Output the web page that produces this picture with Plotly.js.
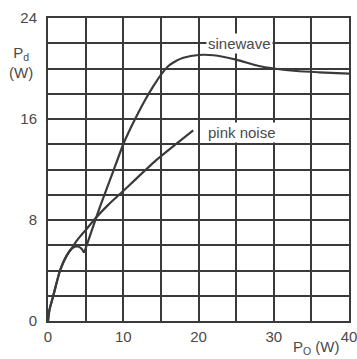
<!DOCTYPE html>
<html>
<head>
<meta charset="utf-8">
<script src="https://cdn.plot.ly/plotly-3.0.1.min.js"></script>
<style>html,body{margin:0;padding:0;background:#fff;}#chart{width:357px;height:359px;}</style>
</head>
<body>
<div id="chart"></div>
<script>
// Sinewave: low-power segment up to the cusp, then the main rise
var sineLowX = [0, 0.2, 0.7, 1.6, 2.5, 3.3, 4.0, 4.5, 4.8];
var sineLowY = [0, 0.9, 2.0, 4.0, 5.2, 5.8, 5.9, 5.7, 5.4];
var sineHighX = [4.8, 6, 7, 8, 9, 10, 11, 12, 13, 14, 15, 16, 17, 18, 20, 22, 25, 28, 30, 33, 36, 40];
var sineHighY = [5.4, 7.5, 9.2, 10.8, 12.4, 14.0, 15.3, 16.5, 17.6, 18.6, 19.5, 20.2, 20.6, 20.85, 21.07, 21.05, 20.7, 20.2, 20.0, 19.8, 19.7, 19.6];
// Pink noise
var pinkX = [0, 0.2, 0.7, 1.6, 2.5, 3.3, 4, 5, 6.25, 8, 10, 11.6, 14.5, 19.3];
var pinkY = [0, 0.9, 2.0, 4.0, 5.2, 5.9, 6.5, 7.2, 8.1, 9.2, 10.3, 11.2, 12.8, 15.1];
var xTicks = [0, 10, 20, 30, 40];
var yTicks = [0, 8, 16, 24];
var seriesLabels = ["sinewave", "pink noise"];

var lineStyle = {color: '#3a3a3a', width: 2.2, shape: 'spline', smoothing: 0.6};
var traces = [
  {x: sineLowX, y: sineLowY, mode: 'lines', line: lineStyle, hoverinfo: 'none'},
  {x: sineHighX, y: sineHighY, mode: 'lines', line: lineStyle, hoverinfo: 'none'},
  {x: pinkX, y: pinkY, mode: 'lines', line: lineStyle, hoverinfo: 'none'}
];
var gridC = '#3a3a3a';
var font = {family: 'Liberation Sans, Arial, sans-serif', size: 15, color: '#4a4a4a'};
var layout = {
  width: 357, height: 359,
  margin: {l: 48, r: 8, t: 18, b: 38},
  paper_bgcolor: '#fff', plot_bgcolor: '#fff',
  showlegend: false,
  font: font,
  xaxis: {
    range: [0, 40], tickvals: xTicks, ticktext: xTicks.map(String),
    showgrid: true, gridcolor: gridC, gridwidth: 2,
    minor: {dtick: 5, tick0: 0, showgrid: true, gridcolor: gridC, gridwidth: 2},
    showline: true, linecolor: gridC, linewidth: 2, mirror: true,
    zeroline: false, ticks: '', ticklabelstandoff: 1, ticklabeloverflow: 'allow',
    fixedrange: true
  },
  yaxis: {
    range: [0, 24], tickvals: yTicks, ticktext: yTicks.map(String),
    showgrid: true, gridcolor: gridC, gridwidth: 2,
    minor: {dtick: 2, tick0: 0, showgrid: true, gridcolor: gridC, gridwidth: 2},
    showline: true, linecolor: gridC, linewidth: 2, mirror: true,
    zeroline: false, ticks: '', ticklabelstandoff: 6, ticklabeloverflow: 'allow',
    fixedrange: true
  },
  annotations: [
    {x: 25.45, y: 22.0, xref: 'x', yref: 'y', text: seriesLabels[0], showarrow: false,
     bgcolor: '#fff', font: font, borderpad: 1},
    {x: 25.8, y: 14.9, xref: 'x', yref: 'y', text: seriesLabels[1], showarrow: false,
     bgcolor: '#fff', font: font, borderpad: 1},
    {x: -0.135, y: 0.92, xref: 'paper', yref: 'paper', text: 'P<sub>d</sub><br>(W)',
     showarrow: false, font: font, align: 'center'},
    {x: 0.975, y: -0.088, xref: 'paper', yref: 'paper', xanchor: 'right', yanchor: 'middle',
     text: 'P<sub>O</sub> (W)', showarrow: false, font: font, borderpad: 0}
  ]
};
Plotly.newPlot('chart', traces, layout, {staticPlot: true, displayModeBar: false});
</script>
</body>
</html>
